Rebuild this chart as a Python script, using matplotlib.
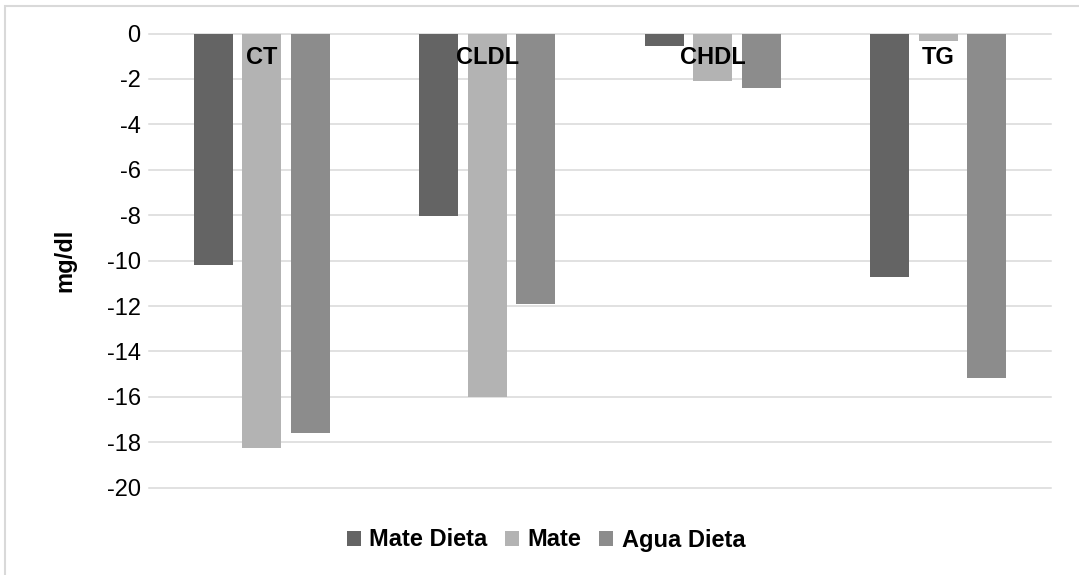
import matplotlib.pyplot as plt
import numpy as np
from matplotlib.patches import Rectangle

plt.rcParams['font.family'] = ['Liberation Sans', 'DejaVu Sans']

categories = ['CT', 'CLDL', 'CHDL', 'TG']
series_names = ['Mate Dieta', 'Mate', 'Agua Dieta']
mate_dieta = [-10.2, -8.05, -0.55, -10.72]
mate = [-18.25, -16.0, -2.07, -0.32]
agua_dieta = [-17.6, -11.92, -2.38, -15.17]
colors = ['#646464', '#b3b3b3', '#8c8c8c']
y_ticks = [0, -2, -4, -6, -8, -10, -12, -14, -16, -18, -20]

fig = plt.figure(figsize=(10.79, 5.75), dpi=100)
ax = fig.add_axes([149 / 1079, 1 - 487.7 / 575, 902 / 1079, 454.2 / 575])

x = np.arange(len(categories))
step = 0.215
width = 0.173
for i, (name, vals) in enumerate(zip(series_names, [mate_dieta, mate, agua_dieta])):
    ax.bar(x + (i - 1) * step, vals, width, color=colors[i], label=name, zorder=2)

ax.set_xlim(-0.5, len(categories) - 0.5)
ax.set_ylim(-20, 0)
ax.set_yticks(y_ticks)
ax.set_yticklabels([str(v) for v in y_ticks], fontsize=17)
ax.yaxis.grid(True, color='#d9d9d9', linewidth=1.1)
for line in ax.get_ygridlines():
    line.set_clip_on(False)
ax.yaxis.set_zorder(1)
ax.tick_params(axis='y', length=0, pad=6)

# category labels sit just under the zero line, drawn over the bars
ax.spines['bottom'].set_position(('data', 0))
ax.set_xticks(x)
ax.set_xticklabels(categories, fontsize=17, fontweight='bold')
ax.tick_params(axis='x', length=0, pad=9)
ax.xaxis.set_zorder(5)
for s in ax.spines.values():
    s.set_visible(False)

ax.set_ylabel('mg/dl', fontsize=17, fontweight='bold', labelpad=22)

fig.legend(loc='center', bbox_to_anchor=(546 / 1079, 1 - 540 / 575), ncol=3,
           frameon=False, prop={'size': 17, 'weight': 'bold'},
           handlelength=0.6, handleheight=0.6, handletextpad=0.35, columnspacing=0.75)

fig.patches.append(Rectangle((4.5 / 1079, -0.01), 1.02, 1 - 6 / 575 + 0.01,
                             transform=fig.transFigure, fill=False,
                             edgecolor='#d9d9d9', linewidth=1.5))

fig.savefig('out.png', dpi=100)
